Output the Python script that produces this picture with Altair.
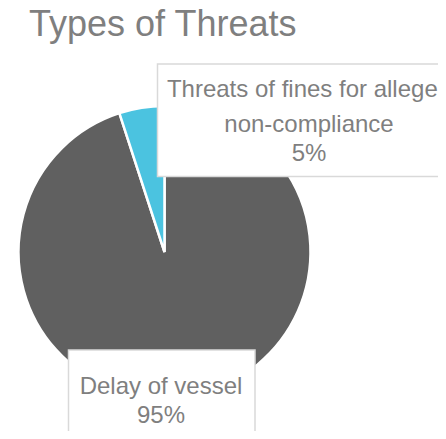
import altair as alt
import pandas as pd

# ---- data ----
categories = ["Delay of vessel", "Threats of fines for alleged non-compliance"]
values = [95, 5]
slice_colors = ["#606060", "#4BC3E0"]
label_lines = [["Delay of vessel"], ["Threats of fines for alleged", "non-compliance"]]
title_text = "Types of Threats"

df = pd.DataFrame({"category": categories, "value": values, "idx": list(range(len(categories)))})

FONT = "Liberation Sans"
TXT = "#7F7F7F"
BORDER = "#D9D9D9"

cx, cy, R = 156.5, 244, 146

pie = alt.Chart(df).mark_arc(outerRadius=R, stroke="white", strokeWidth=2.5).encode(
    theta=alt.Theta("value:Q", stack=True),
    color=alt.Color("category:N", scale=alt.Scale(domain=categories, range=slice_colors), legend=None),
    order=alt.Order("idx:Q"),
    x=alt.value(cx),
    y=alt.value(cy),
)

def box(x, x2, y, y2):
    return alt.Chart(df.head(1)).mark_rect(fill="white", stroke=BORDER, strokeWidth=1.5).encode(
        x=alt.value(x), x2=alt.value(x2), y=alt.value(y), y2=alt.value(y2)
    )

def line(text, x, y, size=24, align="center"):
    d = pd.DataFrame({"t": [text]})
    return alt.Chart(d).mark_text(font=FONT, fontSize=size, color=TXT, align=align, baseline="alphabetic").encode(
        text="t:N", x=alt.value(x), y=alt.value(y)
    )

pct = [f"{v}%" for v in values]

layers = [
    pie,
    box(149.5, 470, 56, 168.5),
    box(60.5, 247, 342, 470),
    line(label_lines[1][0], 301, 89),
    line(label_lines[1][1], 301, 124),
    line(pct[1], 301, 153),
    line(label_lines[0][0], 153, 386),
    line(pct[0], 153, 415),
    line(title_text, 21, 28, size=36, align="left"),
]

chart = alt.layer(*layers).properties(
    width=430, height=423, padding=0, autosize=alt.AutoSizeParams(type="none"), background="white"
).configure_view(stroke=None)

chart.save("out.html", embed_options={"renderer": "svg", "actions": False})
